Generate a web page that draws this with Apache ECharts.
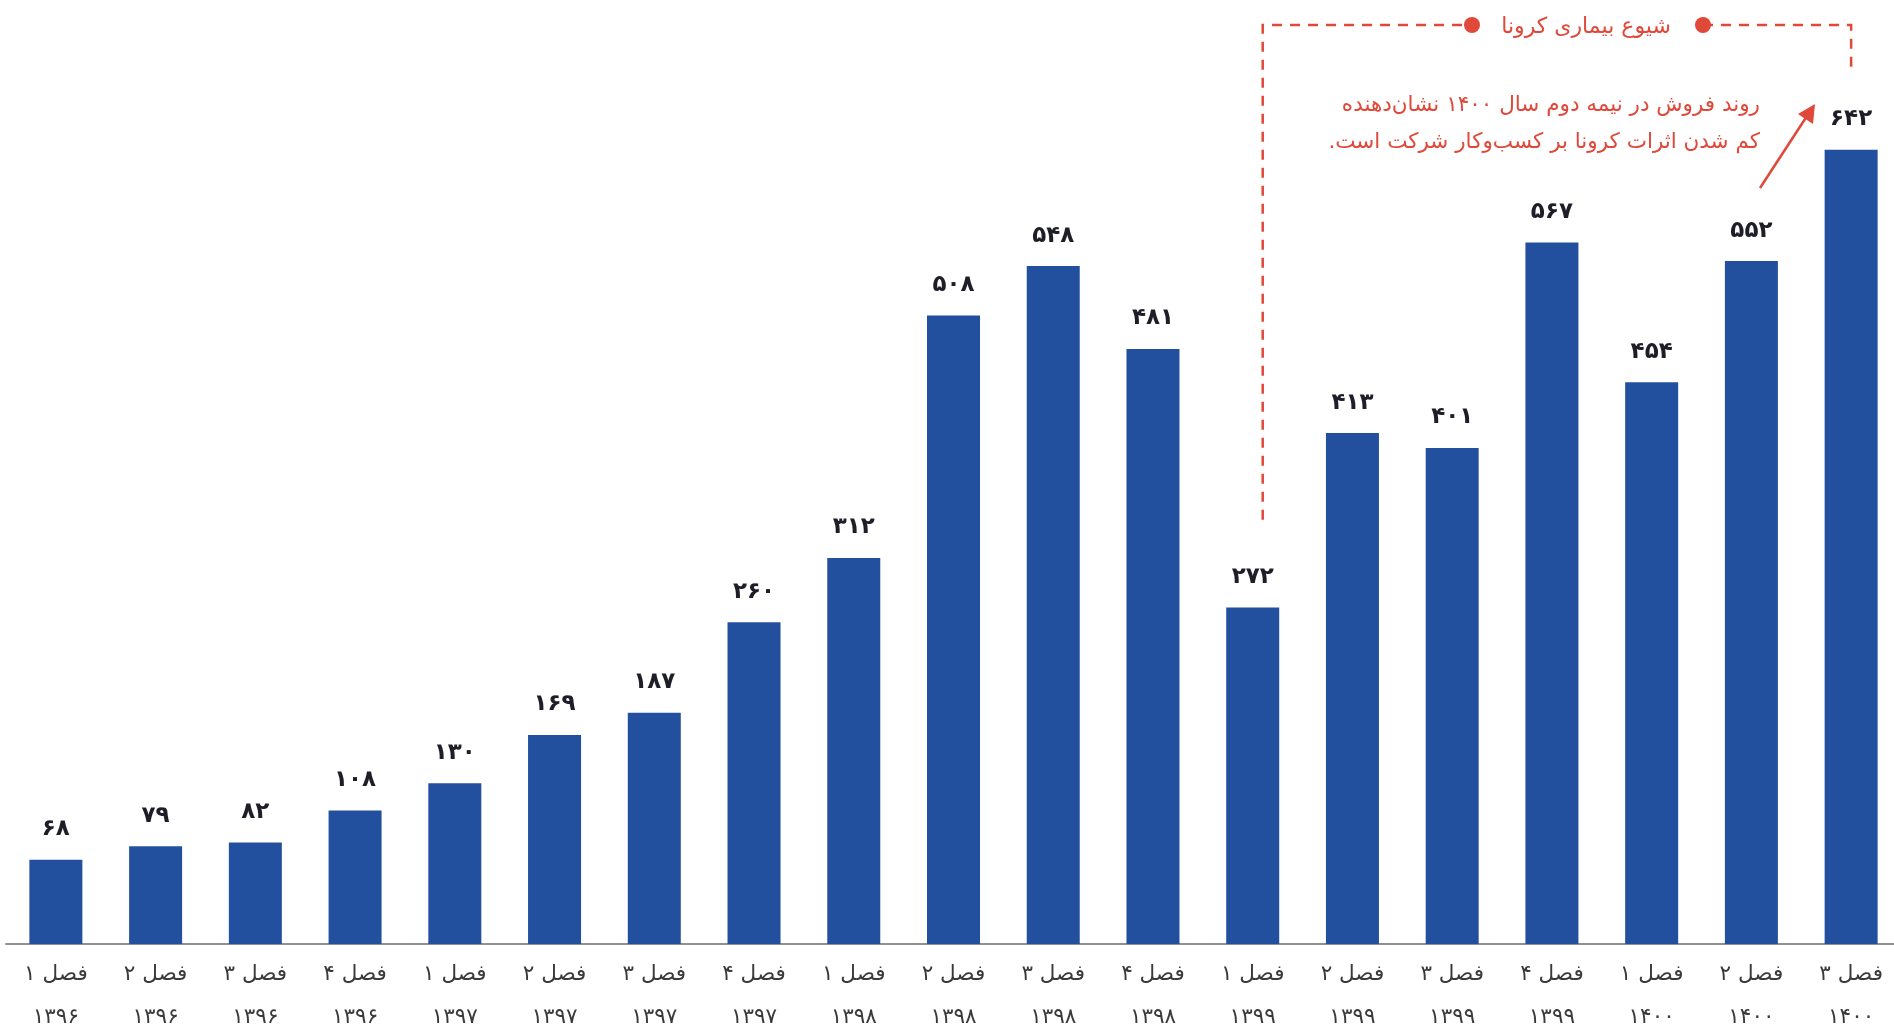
<!DOCTYPE html>
<html>
<head>
<meta charset="utf-8">
<script src="https://cdn.jsdelivr.net/npm/echarts@6/dist/echarts.min.js"></script>
<style>
html,body{margin:0;padding:0;background:#ffffff;}
#c{width:1894px;height:1035px;}
</style>
</head>
<body>
<div id="c"></div>
<script>
var quarters = ['فصل ۱','فصل ۲','فصل ۳','فصل ۴','فصل ۱','فصل ۲','فصل ۳','فصل ۴','فصل ۱','فصل ۲','فصل ۳','فصل ۴','فصل ۱','فصل ۲','فصل ۳','فصل ۴','فصل ۱','فصل ۲','فصل ۳'];
var years = ['۱۳۹۶','۱۳۹۶','۱۳۹۶','۱۳۹۶','۱۳۹۷','۱۳۹۷','۱۳۹۷','۱۳۹۷','۱۳۹۸','۱۳۹۸','۱۳۹۸','۱۳۹۸','۱۳۹۹','۱۳۹۹','۱۳۹۹','۱۳۹۹','۱۴۰۰','۱۴۰۰','۱۴۰۰'];
var sales = [68, 79, 82, 108, 130, 169, 187, 260, 312, 508, 548, 481, 272, 413, 401, 567, 454, 552, 642];
var coronaTitle = 'شیوع بیماری کرونا';
var noteText = 'روند فروش در نیمه دوم سال ۱۴۰۰ نشان‌دهنده\u200F\nکم شدن اثرات کرونا بر کسب‌وکار شرکت است.\u200F';

var categories = quarters.map(function (q, i) { return q + '\n' + years[i]; });
function fa(n) {
  return String(n).replace(/[0-9]/g, function (d) { return '۰۱۲۳۴۵۶۷۸۹'[+d]; });
}

var FONT = "'DejaVu Sans', 'Noto Sans', sans-serif";
var RED = '#e0483a';
var chart = echarts.init(document.getElementById('c'));

chart.setOption({
  backgroundColor: '#ffffff',
  animation: false,
  grid: { left: 6, width: 1895, top: 78, bottom: 91, containLabel: false, outerBoundsMode: 'none' },
  xAxis: {
    type: 'category',
    data: categories,
    axisLine: { show: true, lineStyle: { color: '#909090', width: 2 } },
    axisTick: { show: false },
    axisLabel: {
      interval: 0,
      margin: 9,
      fontFamily: FONT,
      fontSize: 21.5,
      lineHeight: 43,
      color: '#3a3a3a'
    }
  },
  yAxis: { type: 'value', min: 0, max: 700, show: false, splitLine: { show: false } },
  series: [{
    type: 'bar',
    data: sales,
    barWidth: 53,
    itemStyle: { color: '#234f9f' },
    label: {
      show: true,
      position: 'top',
      distance: 19,
      fontFamily: FONT,
      fontSize: 23,
      fontWeight: 'bold',
      color: '#1e1e28',
      formatter: function (p) { return fa(p.value); }
    }
  }]
});

// Annotation (positioned relative to category centers)
var xStart = chart.convertToPixel({ xAxisIndex: 0 }, 12) + 10;
var xEnd = chart.convertToPixel({ xAxisIndex: 0 }, 18);
var yTop = 25;
var yBottomLeft = chart.convertToPixel({ yAxisIndex: 0 }, 343);
var dash = { lineDash: [10, 8], stroke: RED, lineWidth: 2.5 };

chart.setOption({
  graphic: [
    { type: 'polyline', shape: { points: [[xStart, yBottomLeft], [xStart, yTop], [1472, yTop]] }, style: dash, z: 10 },
    { type: 'polyline', shape: { points: [[1703, yTop], [xEnd, yTop], [xEnd, 68]] }, style: dash, z: 10 },
    { type: 'circle', shape: { cx: 1472, cy: yTop, r: 8 }, style: { fill: RED }, z: 11 },
    { type: 'circle', shape: { cx: 1703, cy: yTop, r: 8 }, style: { fill: RED }, z: 11 },
    { type: 'text', x: 1586, y: 27, style: { text: coronaTitle, font: '22px ' + FONT, fill: RED, align: 'center', verticalAlign: 'middle' }, z: 11 },
    { type: 'text', x: 1760, y: 124, style: { text: noteText, font: '21.5px ' + FONT, fill: RED, align: 'right', verticalAlign: 'middle', lineHeight: 37 }, z: 11 },
    { type: 'line', shape: { x1: 1760, y1: 188, x2: 1807, y2: 116 }, style: { stroke: RED, lineWidth: 2.5 }, z: 11 },
    { type: 'polygon', shape: { points: [[1815, 104], [1798, 114], [1813, 124]] }, style: { fill: RED }, z: 11 }
  ]
});
</script>
</body>
</html>
